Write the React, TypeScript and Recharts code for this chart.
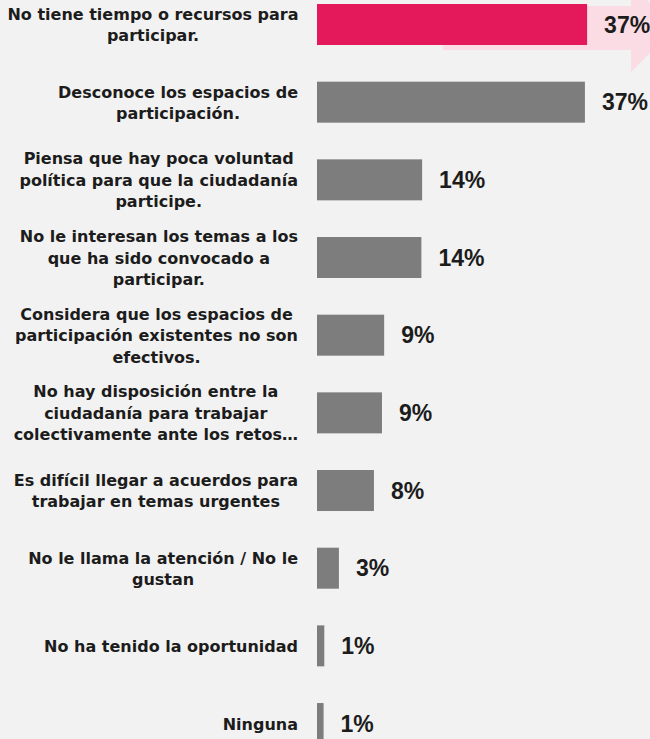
import React from 'react';
import { BarChart, Bar, XAxis, YAxis, LabelList } from 'recharts';

// survey answers, top to bottom
const categories = [
  'No tiene tiempo o recursos para\nparticipar.',
  'Desconoce los espacios de\nparticipación.',
  'Piensa que hay poca voluntad\npolítica para que la ciudadanía\nparticipe.',
  'No le interesan los temas a los\nque ha sido convocado a\nparticipar.',
  'Considera que los espacios de\nparticipación existentes no son\nefectivos.',
  'No hay disposición entre la\nciudadanía para trabajar\ncolectivamente ante los retos…',
  'Es difícil llegar a acuerdos para\ntrabajar en temas urgentes',
  'No le llama la atención / No le\ngustan',
  'No ha tenido la oportunidad',
  'Ninguna',
];
const values = [37.0, 36.7, 14.4, 14.3, 9.2, 8.9, 7.8, 3.0, 1.0, 0.9];
const valueLabels = ['37%', '37%', '14%', '14%', '9%', '9%', '8%', '3%', '1%', '1%'];

const PINK = '#e4195b';
const PINK_LIGHT = '#fbdce5';
const GRAY = '#7d7d7d';
const BG = '#f2f2f2';
const TEXT = '#1c1c1c';
const CAT_FONT = 16;

const data = categories.map((name, i) => ({ name, value: values[i], label: valueLabels[i] }));

let ctx: CanvasRenderingContext2D | null = null;
const measure = (s: string) => {
  if (!ctx) ctx = document.createElement('canvas').getContext('2d');
  if (!ctx) return s.length * 9;
  ctx.font = `bold ${CAT_FONT}px "DejaVu Sans"`;
  return ctx.measureText(s).width;
};

// multi-line label: block right aligned, lines centred inside the block
const CategoryTick = ({ x, y, payload }: any) => {
  const lines = String(payload.value).split('\n');
  const w = Math.min(Math.max(...lines.map(measure)), 290);
  const cx = x - w / 2;
  return (
    <text
      textAnchor="middle"
      fontFamily='"DejaVu Sans", sans-serif'
      fontWeight="bold"
      fontSize={CAT_FONT}
      fill={TEXT}
    >
      {lines.map((l, i) => (
        <tspan key={i} x={cx} y={y + (i - (lines.length - 1) / 2) * 21.5 + 5.8}>
          {l}
        </tspan>
      ))}
    </text>
  );
};

// first bar gets the pink colour and the light arrow behind it
const BarShape = (props: any) => {
  const { x, y, width, height, index } = props;
  const hi = index === 0;
  const ac = y + height / 2 + 3.5;
  const sl = x + width * 0.467;
  const hx = x + width + 44;
  const pts = [
    [sl, ac - 22], [hx, ac - 22], [hx, ac - 44], [hx + 44, ac],
    [hx, ac + 44], [hx, ac + 22], [sl, ac + 22],
  ].map((p) => p.join(',')).join(' ');
  return (
    <g>
      {hi && <polygon points={pts} fill={PINK_LIGHT} />}
      <rect x={x} y={y} width={width} height={height} fill={hi ? PINK : GRAY} />
    </g>
  );
};

export default function App() {
  return (
    <div style={{ position: 'absolute', left: 0, top: 0, width: 650, height: 739, overflow: 'hidden', background: BG }}>
      <div style={{ position: 'absolute', left: 0, top: -14.33 }}>
        <BarChart
          width={650}
          height={800}
          data={data}
          layout="vertical"
          margin={{ top: 0, right: 41, bottom: 23.3, left: 0 }}
        >
          <XAxis type="number" domain={[0, 40]} hide />
          <YAxis
            type="category"
            dataKey="name"
            width={317}
            axisLine={false}
            tickLine={false}
            tickSize={0}
            tickMargin={19}
            interval={0}
            tick={<CategoryTick />}
          />
          <Bar dataKey="value" barSize={41} isAnimationActive={false} shape={BarShape}>
            <LabelList
              dataKey="label"
              position="right"
              offset={17}
              style={{ fontFamily: '"Liberation Sans", Arial, sans-serif', fontWeight: 'bold', fontSize: 23, fill: TEXT }}
            />
          </Bar>
        </BarChart>
      </div>
    </div>
  );
}
